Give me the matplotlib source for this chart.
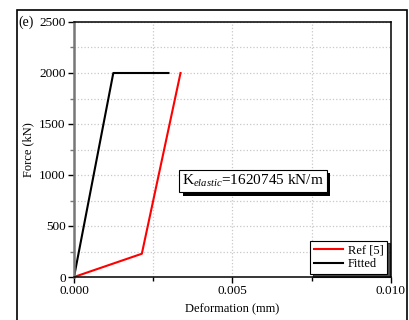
import matplotlib.pyplot as plt
from matplotlib.patches import Rectangle
from matplotlib.ticker import MultipleLocator
import matplotlib.patheffects as pe

plt.rcParams['font.family'] = ['Liberation Serif', 'DejaVu Serif']
plt.rcParams['mathtext.fontset'] = 'custom'
plt.rcParams['mathtext.rm'] = 'Liberation Serif'
plt.rcParams['mathtext.it'] = 'Liberation Serif:italic'

# data
ref_x = [0.0, 0.00214, 0.00336]
ref_y = [0, 228, 2000]
fit_x = [0.0, 0.00124, 0.00298]
fit_y = [0, 2000, 2000]
k_text = r'K$_{\it{elastic}}$=1620745 kN/m'

fig = plt.figure(figsize=(4.1, 3.2), dpi=100)
ax = fig.add_axes([74/410, 1 - 277/320, (391-74)/410, (277-22)/320])

# outer frame around the figure
fig.patches.append(Rectangle((17/410, -0.2), (407-17)/410, 1.2 - 10/320,
                             transform=fig.transFigure, fill=False,
                             edgecolor='black', linewidth=1.2))
fig.text(18/410, 1 - 22/320, '(e)', fontsize=10, va='center', ha='left')

ax.plot(ref_x, ref_y, color='red', lw=1.5, label='Ref [5]')
ax.plot(fit_x, fit_y, color='black', lw=1.5, label='Fitted')

ax.set_xlim(0, 0.010)
ax.set_ylim(0, 2500)
ax.xaxis.set_major_locator(MultipleLocator(0.005))
ax.xaxis.set_minor_locator(MultipleLocator(0.0025))
ax.yaxis.set_major_locator(MultipleLocator(500))
ax.yaxis.set_minor_locator(MultipleLocator(250))
ax.xaxis.set_major_formatter(plt.FuncFormatter(lambda v, p: '%.3f' % v))
ax.grid(True, which='both', color='#c8c8c8', linestyle=':', linewidth=0.9)
ax.set_axisbelow(True)

ax.tick_params(which='both', direction='out', labelsize=9.5, width=1, color='black')
ax.tick_params(which='major', length=4, pad=2)
ax.tick_params(which='minor', length=3)
ax.tick_params(axis='y', which='minor', color='#777777')
for s in ['top', 'right', 'bottom']:
    ax.spines[s].set_linewidth(1.1)
ax.spines['left'].set_color('#777777')
ax.spines['left'].set_linewidth(1.8)

ax.set_xlabel('Deformation (mm)', fontsize=9)
ax.set_ylabel('Force (kN)', fontsize=9)
ax.xaxis.set_label_coords(0.5, -0.102)
ax.yaxis.set_label_coords(-0.125, 0.5)

# annotation box with a black drop shadow
t = ax.text(0.00565, 940, k_text, fontsize=11, ha='center', va='center',
            bbox=dict(boxstyle='square,pad=0.2', fc='white', ec='black', lw=0.8))
t.get_bbox_patch().set_path_effects([
    pe.SimplePatchShadow(offset=(2.5, -2.5), shadow_rgbFace='black', alpha=1),
    pe.Normal()])

leg = ax.legend(loc='lower right', fontsize=9, fancybox=False, edgecolor='black',
                framealpha=1, shadow={'color': 'black', 'alpha': 0.7},
                handlelength=2.3, borderpad=0.3, labelspacing=0.15,
                handletextpad=0.4, borderaxespad=0, bbox_to_anchor=(0.988, 0.012))
leg.get_frame().set_linewidth(0.8)

fig.savefig('out.png', dpi=100)
